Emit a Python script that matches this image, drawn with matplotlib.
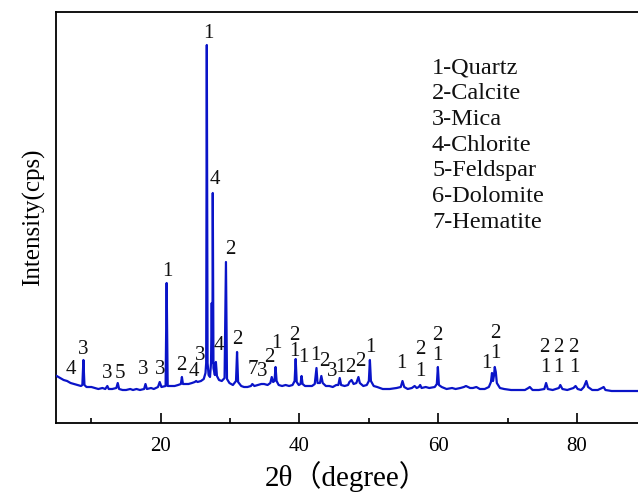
import matplotlib
matplotlib.use("Agg")
import matplotlib.pyplot as plt
from matplotlib.ticker import MultipleLocator

SERIF = ["Liberation Serif", "Noto Sans CJK SC", "DejaVu Serif"]
plt.rcParams["font.family"] = SERIF

# XRD pattern (2theta in degrees, intensity in cps)
two_theta = [
    5.0, 5.5, 6.0, 6.5, 7.0, 7.5, 8.0, 8.5, 8.7, 8.85, 9.0, 9.3, 10.0, 10.5,
    11.0, 11.6, 12.0, 12.3, 12.5, 13.0, 13.6, 13.8, 14.0, 14.5, 15.0, 15.6,
    16.0, 16.5, 17.0, 17.6, 17.8, 18.0, 18.6, 19.0, 19.6, 19.85, 20.1, 20.7,
    20.85, 21.0, 21.5, 22.0, 22.5, 22.9, 23.05, 23.2, 23.6, 24.0, 24.5, 24.9,
    25.1, 25.3, 25.8, 26.2, 26.45, 26.55, 26.64, 26.75, 26.9, 27.1, 27.25,
    27.35, 27.45, 27.5, 27.6, 27.8, 27.95, 28.1, 28.4, 28.8, 29.2, 29.4,
    29.55, 29.9, 30.4, 30.85, 31.0, 31.15, 31.6, 32.0, 32.5, 33.0, 33.2,
    33.5, 34.0, 34.5, 34.9, 35.4, 35.8, 36.0, 36.2, 36.4, 36.55, 36.7, 37.0,
    37.5, 38.0, 38.5, 39.0, 39.3, 39.45, 39.6, 39.9, 40.15, 40.3, 40.45,
    40.8, 41.2, 41.8, 42.2, 42.45, 42.6, 42.95, 43.15, 43.35, 43.8, 44.3,
    44.8, 45.3, 45.6, 45.8, 46.0, 46.5, 47.0, 47.2, 47.5, 47.8, 48.2, 48.5,
    48.7, 49.2, 49.7, 50.0, 50.15, 50.3, 50.7, 51.2, 52.0, 53.0, 54.0, 54.6,
    54.85, 55.1, 55.6, 56.2, 56.6, 56.9, 57.2, 57.4, 57.6, 58.2, 58.7, 59.5,
    59.8, 59.95, 60.1, 60.5, 61.2, 62.0, 62.5, 63.2, 63.7, 64.0, 64.3, 64.6,
    65.0, 65.5, 66.0, 66.7, 67.3, 67.6, 67.75, 67.9, 68.05, 68.15, 68.3,
    68.45, 68.9, 69.5, 70.5, 71.5, 72.5, 73.0, 73.2, 73.6, 74.5, 75.3, 75.55,
    75.8, 76.5, 77.4, 77.6, 77.9, 78.6, 79.5, 79.8, 80.1, 80.6, 81.0, 81.35,
    81.6, 82.2, 83.0, 83.6, 83.85, 84.1, 85.0, 86.0, 87.0, 88.9,
]
intensity = [
    47, 45, 43, 42, 40, 39, 38, 37, 38, 63, 38, 36, 36, 35,
    34, 35, 34, 37, 34, 34, 35, 40, 34, 33, 33, 34,
    33, 34, 33, 34, 39, 34, 35, 34, 36, 41, 36, 37,
    140, 37, 37, 37, 38, 39, 46, 39, 39, 39, 40, 41,
    42, 41, 42, 44, 50, 60, 378, 60, 48, 46, 60,
    120, 60, 230, 55, 48, 61, 47, 43, 42, 45, 161,
    44, 40, 38, 42, 71, 41, 37, 36, 36, 37, 39,
    37, 38, 39, 39, 38, 40, 46, 41, 42, 56, 42, 38,
    37, 38, 37, 38, 42, 64, 41, 38, 39, 47, 39,
    37, 37, 37, 39, 55, 40, 40, 47, 40, 37, 37,
    36, 38, 38, 45, 38, 37, 38, 41, 43, 39, 40, 46,
    40, 37, 38, 42, 63, 42, 37, 36, 34, 34, 35, 36,
    42, 36, 34, 35, 37, 35, 36, 38, 35, 36, 35, 36,
    39, 56, 38, 36, 34, 35, 34, 35, 36, 37, 36, 35,
    35, 36, 34, 34, 36, 41, 50, 42, 48, 56, 51,
    40, 35, 34, 33, 33, 33, 35, 36, 33, 33, 34, 40,
    34, 33, 35, 38, 34, 33, 35, 37, 34, 33, 36, 42,
    36, 33, 33, 35, 36, 33, 32, 32, 32, 32,
]

# phase marks above the peaks (text, 2theta, height)
mark_text = ["4", "3", "3", "5", "3", "3", "1", "2", "4", "3", "1", "4", "4",
             "2", "2", "7", "3", "2", "1", "2", "1", "1", "1", "2", "3", "1",
             "2", "2", "1", "1", "2", "1", "2", "1", "1", "2", "1", "2", "1",
             "2", "1", "2", "1"]
mark_x = [7.1, 8.8, 12.3, 14.1, 17.4, 19.9, 20.9, 22.9, 24.8, 25.7, 26.8,
          27.8, 28.4, 30.0, 31.0, 33.3, 34.6, 35.7, 36.6, 39.2, 39.2, 40.5,
          42.3, 43.6, 44.7, 45.9, 47.3, 48.8, 50.2, 54.7, 57.4, 57.4, 59.9,
          59.9, 67.0, 68.2, 68.2, 75.3, 75.4, 77.3, 77.3, 79.5, 79.6]
mark_y = [53, 74, 50, 50, 53, 54, 152, 57, 51, 67, 389, 243, 78, 174, 83,
          53, 52, 65, 80, 88, 71, 66, 67, 62, 51, 56, 56, 61, 75, 59, 73, 51,
          88, 68, 59, 89, 69, 76, 56, 76, 56, 76, 56]

phases = ["1-Quartz", "2-Calcite", "3-Mica", "4-Chlorite", "5-Feldspar",
          "6-Dolomite", "7-Hematite"]

fig = plt.figure(figsize=(6.38, 4.97), dpi=100, facecolor="white")
ax = fig.add_axes([56 / 638, 74 / 497, 1 - 56 / 638, 411 / 497])

ax.plot(two_theta, intensity, color="#0a14c8", linewidth=1.6, zorder=3)

for t, x, y in zip(mark_text, mark_x, mark_y):
    ax.text(x, y, t, ha="center", va="center", fontsize=15, color="#111111")

for i, p in enumerate(phases):
    fig.text(432 / 638, 1 - (68 + i * 25.7) / 497, p, ha="left", va="center",
             fontsize=17.5, color="#111111")

ax.set_xlim(4.9, 88.8)
ax.set_ylim(0, 411)
ax.xaxis.set_major_locator(MultipleLocator(20))
ax.xaxis.set_minor_locator(MultipleLocator(10))
ax.tick_params(axis="x", which="major", direction="in", length=7, width=1.2,
               labelsize=15, pad=10)
ax.tick_params(axis="x", which="minor", direction="in", length=3.5, width=1.2)
ax.set_yticks([])
ax.spines["right"].set_visible(False)
for s in ("left", "bottom", "top"):
    ax.spines[s].set_linewidth(1.3)

ax.set_xlabel("2θ（degree）", fontsize=21, family=SERIF, labelpad=4)
ax.set_ylabel("Intensity(cps)", fontsize=18, labelpad=8)

fig.savefig("out.png", dpi=100, facecolor="white")
